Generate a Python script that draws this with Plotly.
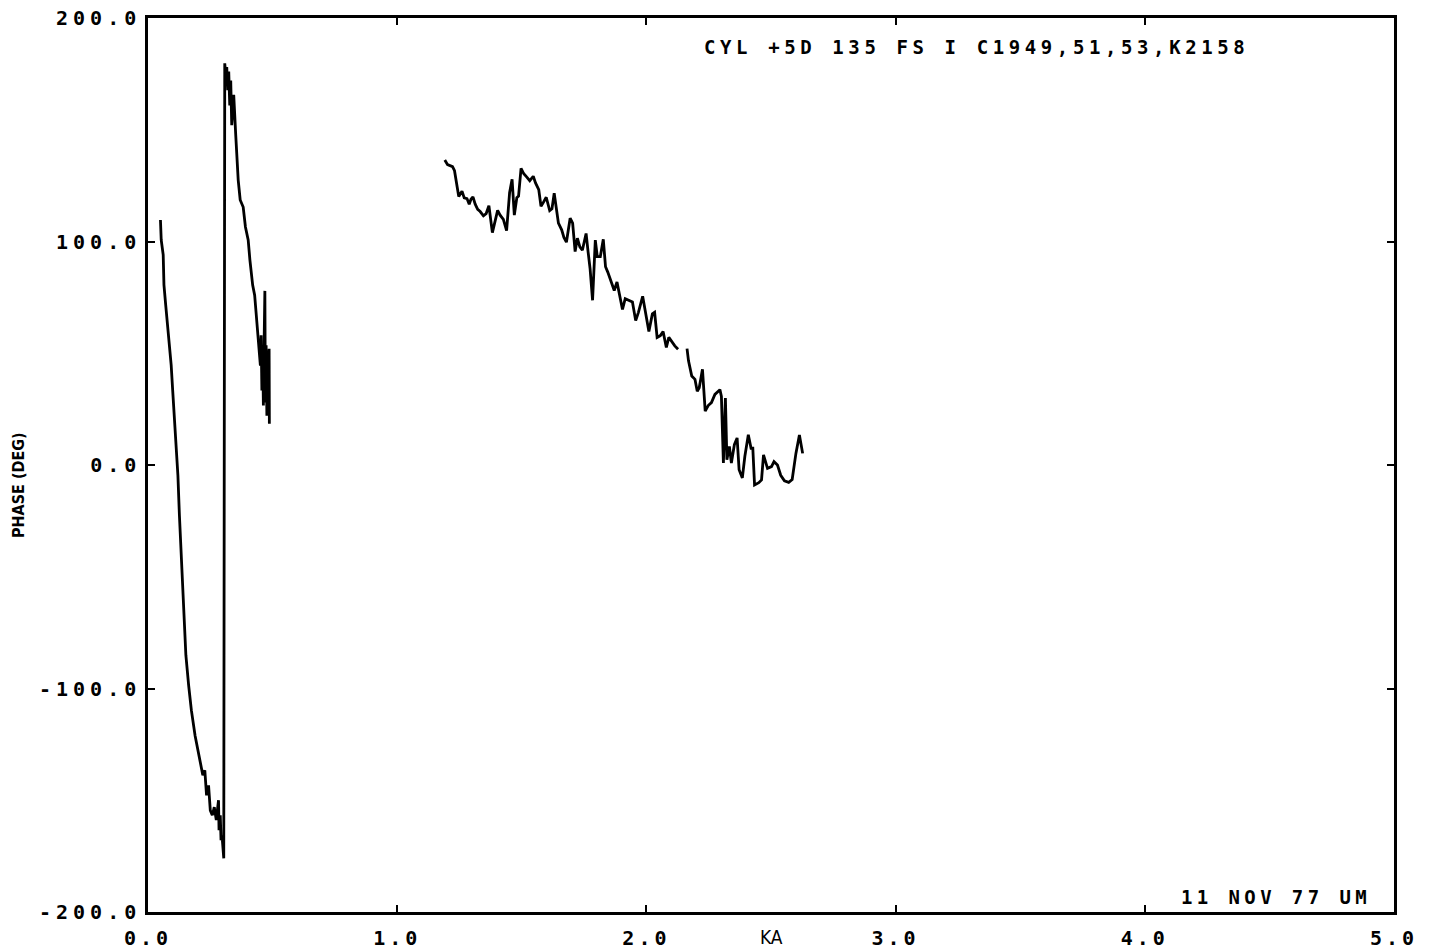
import plotly.graph_objects as go

ka_low = [0.050, 0.053, 0.061, 0.064, 0.071, 0.082, 0.093, 0.099, 0.106, 0.113,
          0.120, 0.126, 0.133, 0.139, 0.146, 0.152, 0.163, 0.174, 0.189, 0.204,
          0.220, 0.228, 0.235, 0.243, 0.250, 0.258, 0.266, 0.274, 0.283, 0.285,
          0.290, 0.293, 0.297, 0.304,
          0.308, 0.312, 0.316, 0.320, 0.324, 0.328, 0.332, 0.336, 0.344, 0.352,
          0.362, 0.370, 0.382, 0.391, 0.402, 0.409, 0.420, 0.428, 0.435, 0.442,
          0.447, 0.451, 0.454, 0.457, 0.460, 0.463, 0.466, 0.469, 0.471, 0.474,
          0.477, 0.480, 0.483, 0.486, 0.487]
phase_low = [109.6, 100.7, 94.0, 80.6, 71.6, 58.2, 44.7, 33.5, 22.3, 11.1,
             -4.6, -22.4, -40.3, -58.2, -73.9, -85.1, -98.5, -109.7, -121.1, -129.8,
             -138.8, -136.6, -147.8, -143.3, -154.5, -156.7, -153.1, -158.9, -150.0, -163.4,
             -156.7, -167.9, -165.7, -176.0,
             179.7, 174.6, 178.0, 167.7, 176.0, 160.9, 172.0, 152.0, 165.6, 147.7,
             127.5, 118.6, 115.4, 106.5, 100.7, 91.7, 80.5, 76.0, 67.0, 58.0,
             52.6, 44.5, 58.0, 33.3, 51.3, 26.6, 55.0, 77.9, 28.0, 53.6,
             22.0, 51.3, 25.0, 52.0, 18.5]

ka_mid = [1.191, 1.202, 1.222, 1.230, 1.241, 1.247, 1.260, 1.269, 1.280, 1.289,
          1.296, 1.304, 1.313, 1.323, 1.333, 1.346, 1.357, 1.368, 1.382, 1.390,
          1.403, 1.413, 1.426, 1.439, 1.451, 1.461, 1.470, 1.480, 1.487, 1.497,
          1.508, 1.521, 1.532, 1.546, 1.555, 1.568, 1.577, 1.585, 1.598, 1.612,
          1.621, 1.630, 1.641, 1.647, 1.660, 1.669, 1.679, 1.694, 1.704, 1.714,
          1.723, 1.733, 1.743, 1.758, 1.766, 1.774, 1.784, 1.795, 1.803, 1.815,
          1.827, 1.836, 1.845, 1.858, 1.871, 1.882, 1.891, 1.904, 1.915, 1.931,
          1.944, 1.957, 1.968, 1.985, 1.997, 2.010, 2.024, 2.033, 2.043, 2.056,
          2.067, 2.080, 2.090, 2.103, 2.114, 2.127]
phase_mid = [136.5, 134.4, 133.5, 131.7, 124.2, 120.1, 122.5, 119.5, 119.2, 116.7,
             118.9, 120.0, 116.7, 114.4, 113.4, 111.5, 112.5, 116.0, 104.0, 107.7,
             113.9, 111.8, 109.9, 104.9, 121.8, 127.8, 111.8, 119.6, 120.3, 132.7,
             130.3, 128.7, 127.2, 129.2, 126.2, 123.2, 115.8, 117.2, 119.8, 113.8,
             114.6, 121.6, 114.1, 108.2, 105.2, 101.8, 99.7, 110.4, 108.2, 95.5,
             101.5, 97.6, 96.1, 103.6, 95.4, 87.9, 73.7, 100.6, 93.2, 93.2,
             101.0, 88.7, 86.3, 81.9, 78.1, 81.9, 77.4, 69.6, 74.4, 73.6,
             72.9, 64.6, 68.3, 75.5, 68.3, 59.7, 67.6, 68.3, 57.1, 57.9,
             59.7, 52.6, 57.1, 54.8, 53.3, 51.8]

ka_high = [2.163, 2.169, 2.182, 2.195, 2.204, 2.212, 2.225, 2.236, 2.248, 2.261,
           2.275, 2.288, 2.295, 2.301, 2.309, 2.317, 2.323, 2.333, 2.341, 2.353,
           2.364, 2.372, 2.385, 2.395, 2.409, 2.420, 2.427, 2.434, 2.451, 2.462,
           2.470, 2.486, 2.502, 2.512, 2.526, 2.539, 2.554, 2.571, 2.585, 2.600,
           2.614, 2.627]
phase_high = [52.1, 46.6, 39.8, 38.3, 33.0, 34.6, 42.8, 24.1, 26.6, 27.9,
              31.6, 33.0, 33.7, 30.7, 0.9, 30.0, 2.4, 8.3, 0.9, 9.1,
              12.1, -2.1, -5.8, 3.8, 13.5, 7.5, 7.5, -8.9, -7.9, -6.7,
              4.5, -1.5, -0.7, 1.5, 0.0, -4.6, -7.1, -7.8, -6.5, 5.2,
              13.4, 5.2]

x_ticks = [0, 1, 2, 3, 4, 5]
x_tick_text = ["0.0", "1.0", "2.0", "3.0", "4.0", "5.0"]
y_ticks = [-200, -100, 0, 100, 200]
y_tick_text = ["-200.0", "-100.0", "0.0", "100.0", "200.0"]

title_text = "CYL +5D 135 FS I C1949,51,53,K2158"
date_text = "11 NOV 77 UM"

PLOT_FONT = "DejaVu Sans Mono"
NARROW_FONT = "DejaVu Sans Condensed"


def spaced(s, gap):
    return f'<span style="letter-spacing:{gap}px">{s}</span>'


fig = go.Figure()
for xs, ys in [(ka_low, phase_low), (ka_mid, phase_mid), (ka_high, phase_high)]:
    fig.add_trace(go.Scatter(
        x=xs, y=ys, mode="lines",
        line=dict(color="black", width=2.8),
        showlegend=False, hoverinfo="skip",
    ))

axis_common = dict(
    showline=True, linecolor="black", linewidth=2.5, mirror="ticks",
    ticks="inside", ticklen=7, tickwidth=2, tickcolor="black",
    showgrid=False, zeroline=False, automargin=False,
    tickfont=dict(family=PLOT_FONT, size=20, color="black", weight="bold"),
)

fig.update_xaxes(
    range=[0, 5], tickmode="array", tickvals=x_ticks,
    ticktext=[spaced(t, 4) for t in x_tick_text],
    ticklabelstandoff=6, **axis_common,
)
fig.update_yaxes(
    range=[-200, 200], tickmode="array", tickvals=y_ticks,
    ticktext=[spaced(t, 5) for t in y_tick_text],
    ticklabelstandoff=0, **axis_common,
)

fig.add_annotation(
    text=spaced(title_text, 4.6), xref="paper", yref="paper",
    x=0.4446, y=0.9676, xanchor="left", yanchor="middle", showarrow=False,
    font=dict(family=PLOT_FONT, size=19, color="black", weight="bold"),
)
fig.add_annotation(
    text=spaced(date_text, 4.4), xref="paper", yref="paper",
    x=0.983, y=0.017, xanchor="right", yanchor="middle", showarrow=False,
    font=dict(family=PLOT_FONT, size=19, color="black", weight="bold"),
)
fig.add_annotation(
    text="PHASE (DEG)", xref="paper", yref="paper",
    x=-0.1043, y=0.4776, xanchor="center", yanchor="middle", showarrow=False,
    textangle=-90,
    font=dict(family=NARROW_FONT, size=16, color="black", weight="bold"),
)
fig.add_annotation(
    text="KA", xref="x", yref="paper",
    x=2.5, y=0, xanchor="center", yanchor="middle", yshift=-25, showarrow=False,
    font=dict(family=NARROW_FONT, size=19, color="black"),
)

fig.update_layout(
    width=1436, height=951,
    margin=dict(l=148, r=42, t=18, b=39),
    paper_bgcolor="white", plot_bgcolor="white",
)

fig.write_html("out.html")
